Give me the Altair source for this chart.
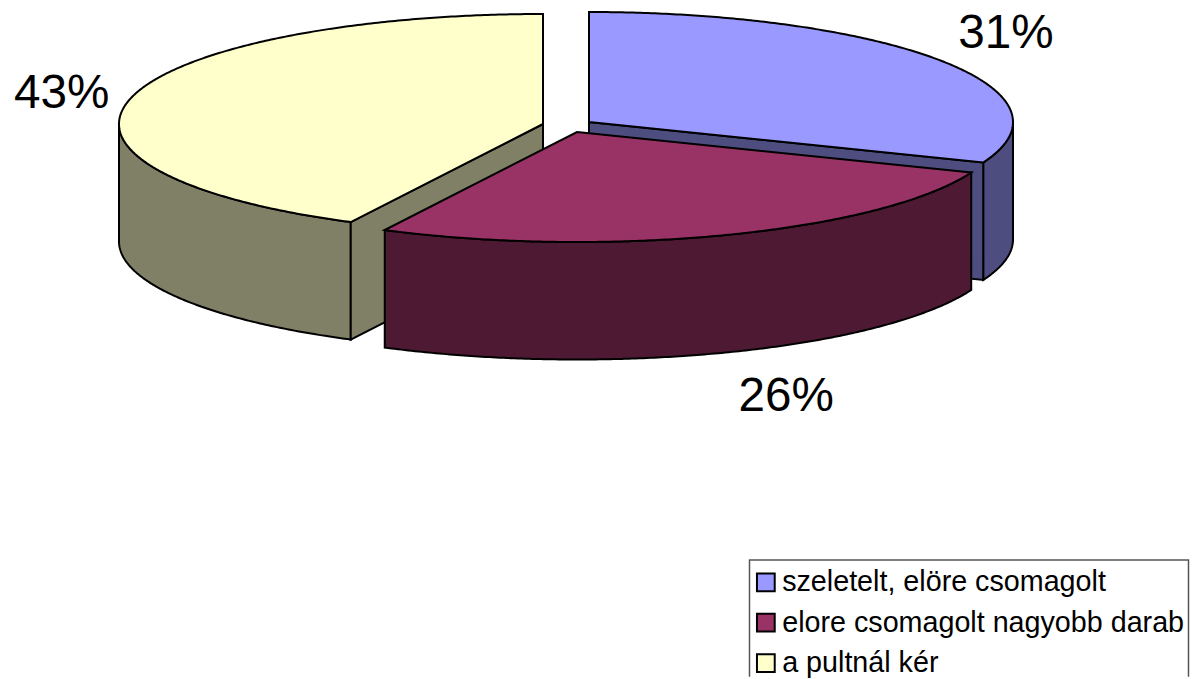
import math
import altair as alt

# --- values ---
names = ["szeletelt, elöre csomagolt", "elore csomagolt nagyobb darab", "a pultnál kér"]
shares = [31.0, 26.49, 42.51]
top_colors = ["#9999FF", "#993366", "#FFFFCC"]
wall_colors = ["#4D4D80", "#4D1933", "#808066"]

# --- layout of the tilted pie, in page pixels ---
OFFSET = 8            # page margin
CHART_W, CHART_H = 1190, 671
K = CHART_W / 1182    # the page fits the drawing into 1182 px, so draw that much larger
DY = (CHART_H - CHART_H / K) / 2   # and centres it vertically
RX, RY, DEPTH = 424, 110, 117.5
apex_x = [589, 577, 543]
apex_y = [122, 132, 124]
label_rx = [504, 591, 495]
label_ry = [156, 283, 130]
paint_order = [0, 2, 1]
# legend frame: the page clips at x = 1190, so the frame closes just inside it
frame_left, frame_right, frame_top, frame_bottom = 749.5, 1188.5, 560, 700


def rim(i, t0, t1, dy=0):
    n = max(2, int(abs(t1 - t0) * 2) + 1)
    pts = []
    for k in range(n + 1):
        t = math.radians(t0 + (t1 - t0) * k / n)
        pts.append([apex_x[i] + RX * math.sin(t), apex_y[i] - RY * math.cos(t) + dy])
    return pts


def feature(ring, name):
    ring = ring + [ring[0]]
    return {"type": "Feature", "properties": {"name": name},
            "geometry": {"type": "Polygon", "coordinates": [ring]}}


angles = []
acc = 0.0
for s in shares:
    angles.append((acc, acc + s * 3.6))
    acc += s * 3.6

projection = dict(type="identity", scale=K,
                  translate=[-OFFSET * K, -(OFFSET + DY) * K])
color = alt.Color(
    "properties.name:N",
    scale=alt.Scale(domain=names, range=top_colors),
    legend=alt.Legend(
        title=None, orient="none", legendX=(frame_left - OFFSET) * K, legendY=(frame_top - OFFSET - DY) * K,
        symbolType="square", symbolSize=320, symbolStrokeColor="black", symbolStrokeWidth=2,
        symbolOffset=-6,
        labelFont="Liberation Sans", labelFontSize=28.9, labelColor="black", labelLimit=500,
        labelOffset=2, rowPadding=10.7, padding=8,
    ),
)

layers = []
for i in paint_order:
    t0, t1 = angles[i]
    walls = []
    # outer wall: only the part of the rim facing the viewer (t between 90 and 270)
    w0, w1 = max(t0, 90), min(t1, 270)
    if w1 > w0:
        walls.append(feature(rim(i, w0, w1) + rim(i, w1, w0, DEPTH), names[i] + " rim"))
    # radial walls facing the viewer
    apex = [apex_x[i], apex_y[i]]
    apex_low = [apex_x[i], apex_y[i] + DEPTH]
    if t1 < 180:
        e = rim(i, t1, t1)[0]
        walls.append(feature([apex, e, [e[0], e[1] + DEPTH], apex_low], names[i] + " cut"))
    if t0 > 180:
        e = rim(i, t0, t0)[0]
        walls.append(feature([apex, e, [e[0], e[1] + DEPTH], apex_low], names[i] + " cut"))
    if walls:
        layers.append(
            alt.Chart(alt.Data(values=walls))
            .mark_geoshape(fill=wall_colors[i], stroke="black", strokeWidth=2)
            .project(**projection)
        )
    top = feature([apex] + rim(i, t0, t1), names[i])
    layers.append(
        alt.Chart(alt.Data(values=[top]))
        .mark_geoshape(stroke="black", strokeWidth=2)
        .encode(color=color)
        .project(**projection)
    )

frame = (
    alt.Chart(alt.Data(values=[feature(
        [[frame_left, frame_top], [frame_right, frame_top],
         [frame_right, frame_bottom], [frame_left, frame_bottom]], "legend frame")]))
    .mark_geoshape(fill=None, filled=False, stroke="#555555", strokeWidth=1.5)
    .project(**projection)
)

label_rows = []
for i, s in enumerate(shares):
    mid = math.radians(sum(angles[i]) / 2)
    label_rows.append({
        "lon": apex_x[i] + label_rx[i] * math.sin(mid),
        "lat": apex_y[i] - label_ry[i] * math.cos(mid),
        "text": f"{round(s)}%",
    })

labels = (
    alt.Chart(alt.Data(values=label_rows))
    .mark_text(font="Liberation Sans", fontSize=48, color="black", align="center", baseline="middle")
    .encode(longitude="lon:Q", latitude="lat:Q", text="text:N")
    .project(**projection)
)

chart = (
    alt.layer(*layers, frame, labels)
    .properties(width=CHART_W, height=CHART_H, padding=0, autosize=alt.AutoSizeParams(type="none"))
    .configure_view(stroke=None)
    .configure(background="white")
)

chart.save("out.html", embed_options={"renderer": "svg", "actions": False})
